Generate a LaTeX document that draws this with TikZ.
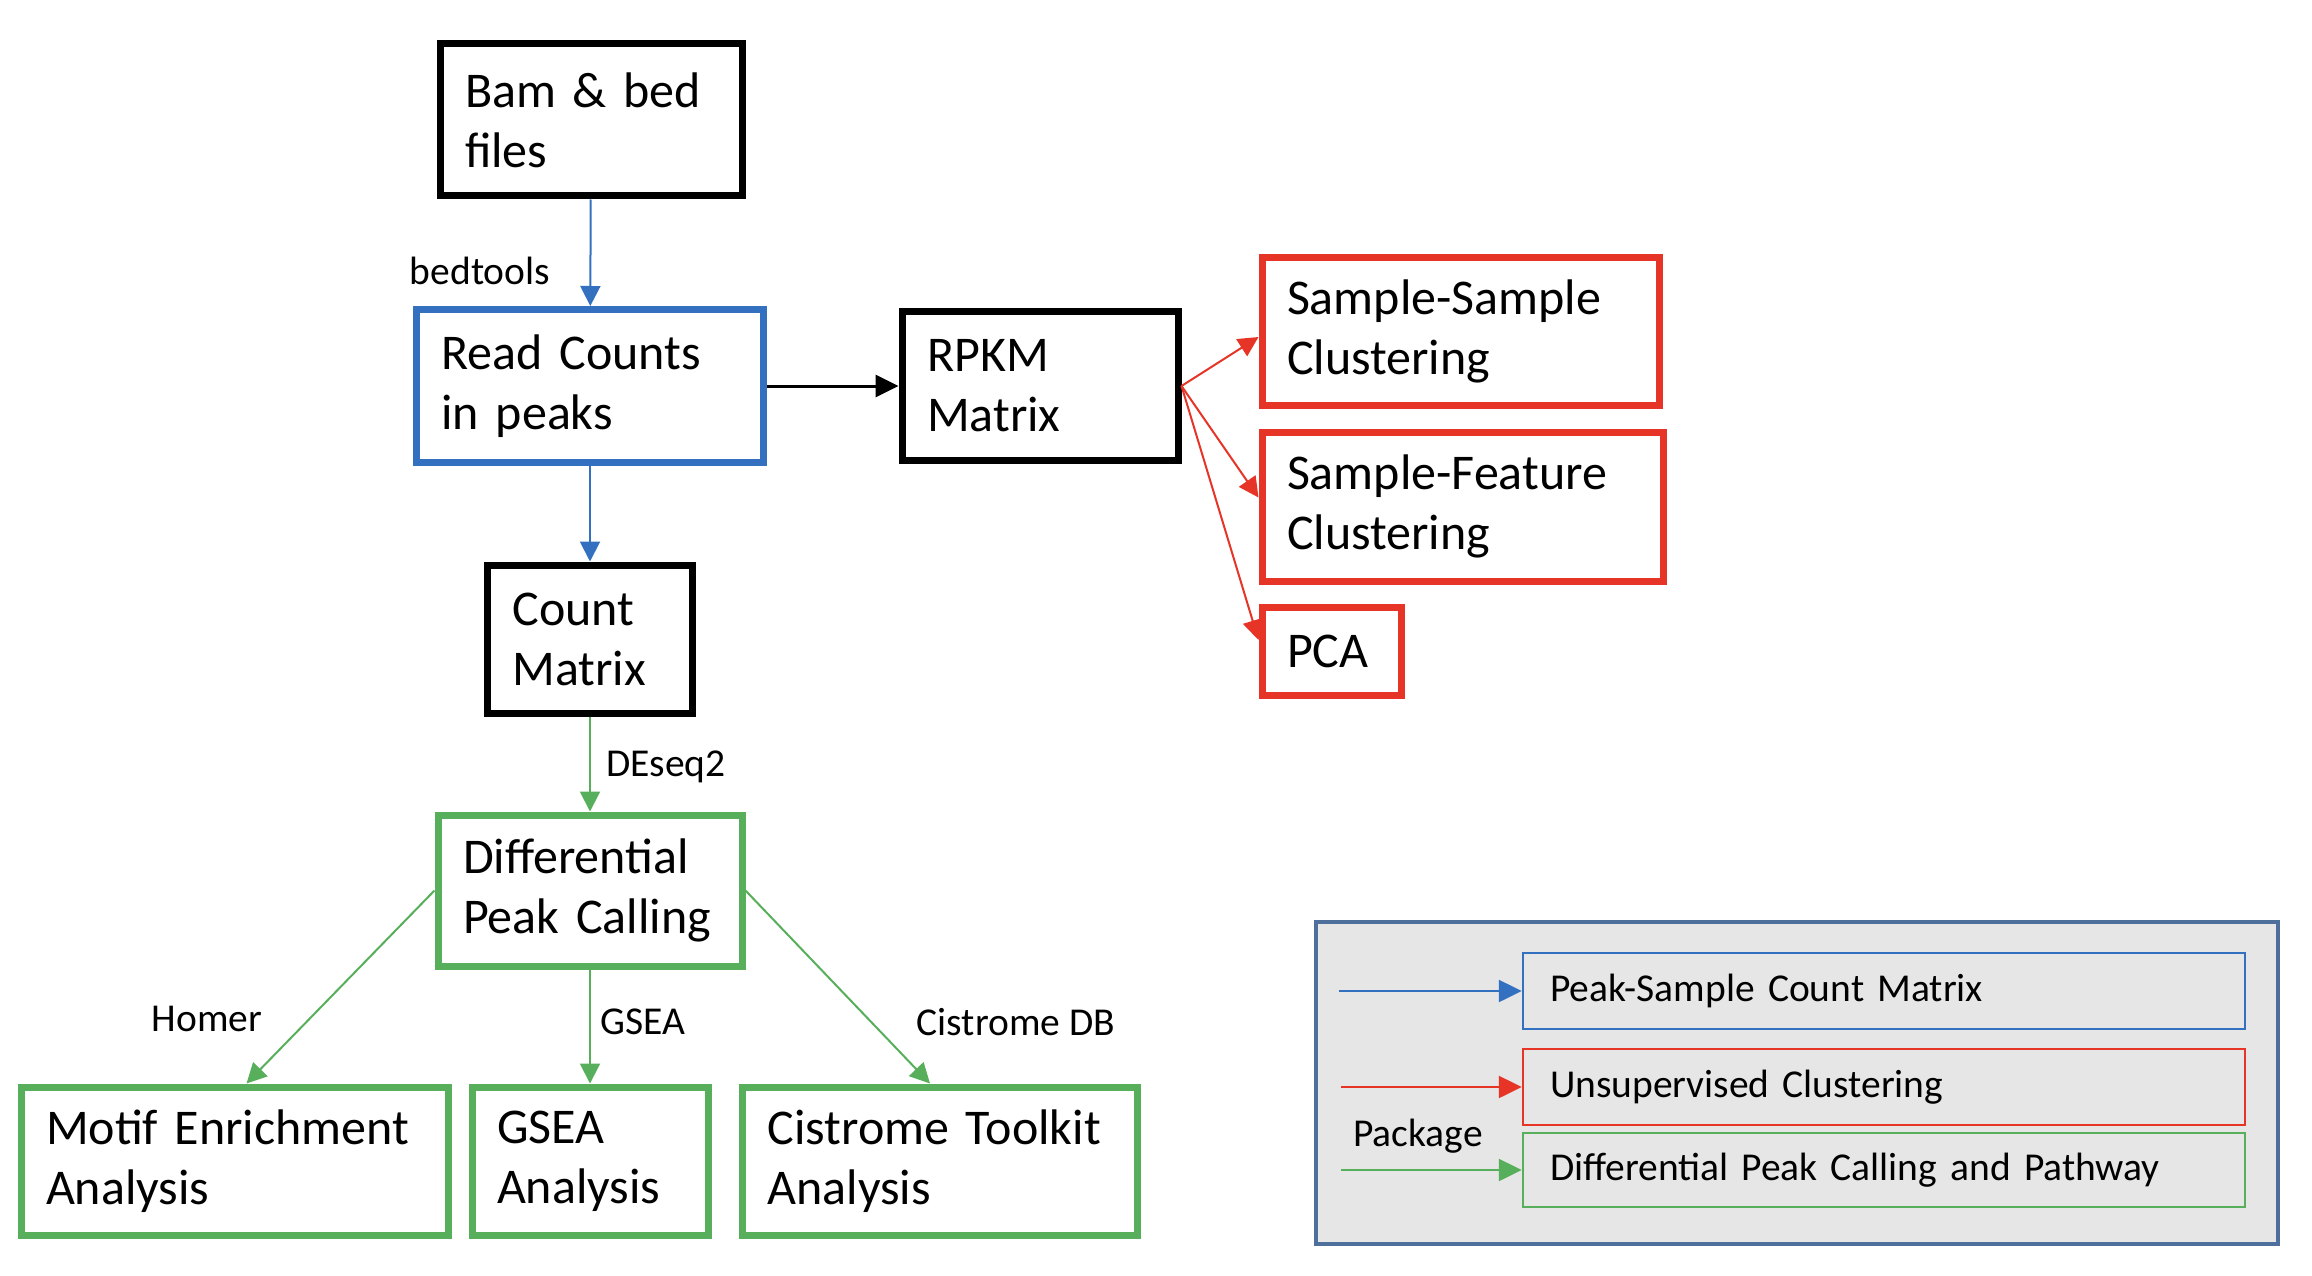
\documentclass[tikz,border=0pt]{standalone}
\usepackage{fontspec}
\setmainfont{Carlito}
\usetikzlibrary{arrows.meta}
\definecolor{cblue}{HTML}{3370BF}
\definecolor{cred}{HTML}{E63427}
\definecolor{cgreen}{HTML}{58AF5B}
\definecolor{lgborder}{HTML}{4E6F9B}
\definecolor{lgfill}{HTML}{E6E6E6}
\begin{document}
\begin{tikzpicture}[x=1pt,y=-1pt,
  box/.style={draw, line width=7pt, rectangle, inner xsep=25pt, inner ysep=0pt,
    align=left, font=\fontsize{50}{60}\selectfont},
  lbl/.style={font=\fontsize{39.5}{47}\selectfont, inner sep=0pt},
  lbox/.style={draw, line width=2.5pt, rectangle, inner xsep=27pt, inner ysep=0pt,
    align=left, text width=668pt, minimum height=76pt, font=\fontsize{39.5}{47}\selectfont},
  conn/.style={line width=2pt, -{Triangle[length=20pt,width=20pt]}},
  lconn/.style={line width=2.5pt, -{Triangle[length=23pt,width=22pt]}}
]
\useasboundingbox (0,0) rectangle (2312,1276);

% main boxes
\node[box, draw=black, minimum height=152pt, text width=252pt] (bam) at (591,120) {Bam \& bed\\files};
\node[box, draw=cblue, minimum height=153pt, text width=297pt] (rc) at (590,386) {Read Counts\\in peaks};
\node[box, draw=black, minimum height=149pt, text width=226pt] (rpkm) at (1040,386) {RPKM\\Matrix};
\node[box, draw=black, minimum height=148pt, text width=155pt] (cm) at (590,639) {Count\\Matrix};
\node[box, draw=cgreen, minimum height=151pt, text width=254pt] (diff) at (590,890.5) {Differential\\Peak Calling};
\node[box, draw=cgreen, minimum height=148pt, text width=377pt] (motif) at (234.5,1161) {Motif Enrichment\\Analysis};
\node[box, draw=cgreen, minimum height=148pt, text width=186pt] (gsea) at (590,1161) {GSEA\\Analysis};
\node[box, draw=cgreen, minimum height=148pt, text width=345pt] (cist) at (940,1161) {Cistrome Toolkit\\Analysis};
\node[box, draw=cred, minimum height=148pt, text width=347pt] (ss) at (1460.5,331) {Sample-Sample\\Clustering};
\node[box, draw=cred, minimum height=149pt, text width=351pt] (sf) at (1462.5,506.5) {Sample-Feature\\Clustering};
\node[box, draw=cred, minimum height=88pt, text width=89pt] (pca) at (1331.5,651) {PCA};

% labels
\node[lbl] (lbed) at (480,271) {bedtools};
\node[lbl] (ldes) at (666,767) {DEseq2};
\node[lbl] (lhom) at (207,1019) {Homer};
\node[lbl] (lgsea) at (643,1022) {GSEA};
\node[lbl] (lcis) at (1016,1022) {Cistrome DB};

% connectors
\draw[conn, cblue] (bam) -- (rc);
\draw[conn, cblue] (rc) -- (cm);
\draw[line width=3pt, -{Triangle[length=23pt,width=22pt]}, black] (rc.east) -- (rpkm.west);
\draw[conn, cgreen] (cm) -- (diff);
\draw[conn, cgreen] (diff.west) -- ([xshift=12pt]motif.north);
\draw[conn, cgreen] (diff.south) -- (gsea.north);
\draw[conn, cgreen] (diff.east) -- ([xshift=-10pt]cist.north);
\draw[conn, cred] (rpkm.east) -- ([yshift=-6pt]ss.west);
\draw[conn, cred] (rpkm.east) -- ([yshift=9pt]sf.west);
\draw[conn, cred] (rpkm.east) -- ([yshift=11pt]pca.west);

% legend
\node[draw=lgborder, fill=lgfill, line width=4pt, minimum width=962pt, minimum height=322pt, inner sep=0pt] (legend) at (1797,1083) {};
\node[lbox, draw=cblue] (lb1) at (1884,991) {Peak-Sample Count Matrix};
\node[lbox, draw=cred] (lb2) at (1884,1087) {Unsupervised Clustering};
\node[lbox, draw=cgreen, minimum height=74pt] (lb3) at (1884,1170) {Differential Peak Calling and Pathway};
\coordinate (a1) at (1339,991);
\coordinate (a2) at (1341,1087);
\coordinate (a3) at (1341,1170);
\draw[lconn, cblue] (a1) -- (lb1.west);
\draw[lconn, cred] (a2) -- (lb2.west);
\draw[lconn, cgreen] (a3) -- (lb3.west);
\node[lbl] (pkg) at (1418,1136) {Package};
\end{tikzpicture}
\end{document}
